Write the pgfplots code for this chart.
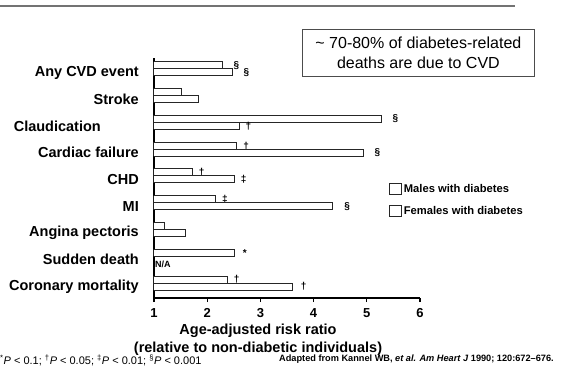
\documentclass[border=0pt]{standalone}
\usepackage{pgfplots}
\pgfplotsset{compat=1.18}
\usepackage{fontspec}
\setmainfont{Liberation Sans}

\begin{document}
\begin{tikzpicture}[x=1pt,y=1pt]
\useasboundingbox (0,0) rectangle (571,-381);
% rule across the top
\draw[line width=1.5pt, black!55] (0,-6) -- (515,-6);

\begin{axis}[
  at={(154pt,-298pt)}, anchor=south west,
  scale only axis, width=266pt, height=240pt,
  xbar, bar width=7pt,
  xmin=1, xmax=6, ymin=-0.56, ymax=8.41,
  axis lines*=left,
  axis line style={line width=1.6pt, black},
  xtick={1,2,3,4,5,6},
  tick align=outside,
  major tick length=4pt,
  xtick style={line width=1.2pt, black},
  ytick={0,...,8},
  ytick style={draw=none},
  yticklabels={Coronary mortality, Sudden death, Angina pectoris, MI, CHD, Cardiac failure, Claudication\hspace*{38pt}, Stroke, Any CVD event},
  yticklabel style={font=\bfseries\fontsize{14.5}{16}\selectfont, inner sep=0pt, xshift=-11pt, yshift=-3.5pt},
  xticklabel style={font=\bfseries\fontsize{13}{15}\selectfont, inner sep=0pt, yshift=-6pt},
  /pgf/number format/assume math mode=true,
  legend style={at={(0.883,0.483)}, anchor=north west, draw=none, fill=none,
    font=\bfseries\fontsize{11.2}{13}\selectfont, inner sep=0pt, row sep=8pt,
    /tikz/every even column/.append style={column sep=10pt}},
  legend cell align=left,
  legend image code/.code={\draw[fill=white, draw=black!85, line width=0.8pt] (0pt,-5.5pt) rectangle (12pt,5.5pt);},
  nodes near coords,
  point meta=explicit symbolic,
  every node near coord/.append style={anchor=west, inner sep=0pt, xshift=6pt, font=\bfseries\fontsize{10}{10}\selectfont},
  clip mode=individual,
]
% males with diabetes (upper bar of each pair)
\addplot[fill=white, draw=black!85, line width=1pt, bar shift=3.5pt] coordinates {
  (2.28,8) [\hspace*{5pt}§]
  (1.52,7) []
  (5.27,6) [\hspace*{5pt}§]
  (2.56,5) [†]
  (1.72,4) [†]
  (2.16,3) [‡]
  (1.19,2) []
  (2.51,1) [\hspace*{2pt}*]
  (2.38,0) [†]
};
% females with diabetes (lower bar of each pair)
\addplot[fill=white, draw=black!85, line width=1pt, bar shift=-3.5pt] coordinates {
  (2.47,8) [\hspace*{5pt}§]
  (1.83,7) []
  (2.60,6) [†]
  (4.93,5) [\hspace*{5pt}§]
  (2.51,4) [‡]
  (4.36,3) [\hspace*{5pt}§]
  (1.60,2) []
  (3.60,0) [\hspace*{2pt}†]
};
\legend{Males with diabetes, Females with diabetes}
\node[anchor=west, inner sep=0pt, font=\bfseries\fontsize{9}{9}\selectfont] at (axis cs:1,1) [yshift=-7.7pt, xshift=1pt] {N/A};
\end{axis}

% callout box
\draw[line width=1pt, black!70] (302.7,-29.3) rectangle (534,-76);
\node[align=center, inner sep=0pt, font=\fontsize{16}{20}\selectfont] at (418.4,-52.7)
  {\textasciitilde{} 70-80\% of diabetes-related\\deaths are due to CVD};

% axis title
\node[align=center, inner sep=0pt, font=\bfseries\fontsize{14.5}{18}\selectfont] at (258,-339.5)
  {Age-adjusted risk ratio\\(relative to non-diabetic individuals)};

% footnotes
\node[anchor=west, inner sep=0pt, font=\fontsize{11}{13}\selectfont] at (0,-360)
  {\textsuperscript{*}\textit{P} < 0.1; \textsuperscript{†}\textit{P} < 0.05; \textsuperscript{‡}\textit{P} < 0.01; \textsuperscript{§}\textit{P} < 0.001};
\node[anchor=west, inner sep=0pt, font=\bfseries\fontsize{9.2}{11}\selectfont] at (279,-359.5)
  {Adapted from Kannel WB, \textit{et al. Am Heart J} 1990; 120:672–676.};
\end{tikzpicture}
\end{document}
